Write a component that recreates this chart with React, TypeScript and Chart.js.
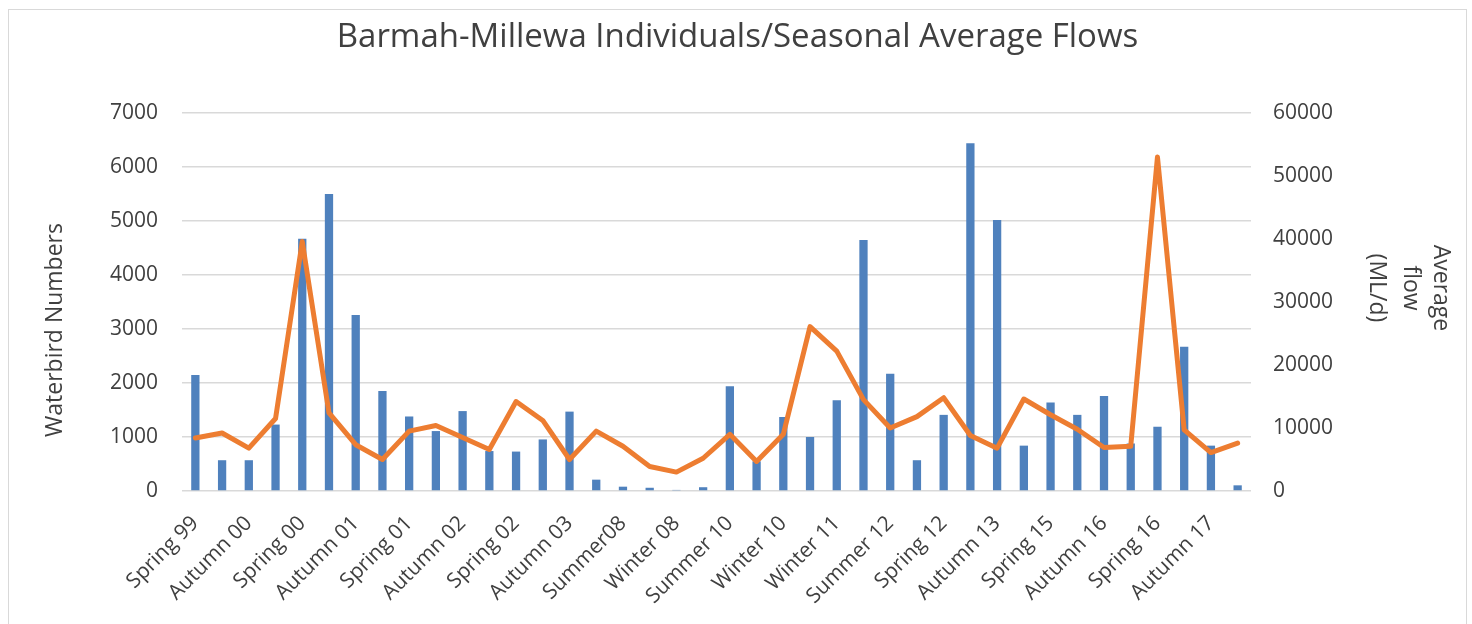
import React, { useEffect, useRef } from 'react';
import { Chart, registerables } from 'chart.js';

Chart.register(...registerables);

const chartTitle = 'Barmah-Millewa Individuals/Seasonal Average Flows';
const leftAxisTitle = 'Waterbird Numbers';
const rightAxisTitle = ['Average', 'flow', '(ML/d)'];

const categories = [
  'Spring 99', 'Summer 00', 'Autumn 00', 'Winter 00', 'Spring 00', 'Summer 01', 'Autumn 01', 'Winter 01',
  'Spring 01', 'Summer 02', 'Autumn 02', 'Winter 02', 'Spring 02', 'Summer 03', 'Autumn 03', 'Winter 03',
  'Summer08', 'Autumn 08', 'Winter 08', 'Spring 08', 'Summer 10', 'Autumn 10', 'Winter 10', 'Spring 10',
  'Winter 11', 'Spring 11', 'Summer 12', 'Autumn 12', 'Spring 12', 'Summer 13', 'Autumn 13', 'Winter 13',
  'Spring 15', 'Summer 16', 'Autumn 16', 'Winter 16', 'Spring 16', 'Summer 17', 'Autumn 17', 'Winter 17',
];

const waterbirdNumbers = [
  2150, 570, 570, 1230, 4670, 5500, 3260, 1850,
  1380, 1110, 1480, 740, 730, 955, 1470, 210,
  80, 60, 20, 70, 1940, 550, 1370, 1000,
  1680, 4650, 2170, 570, 1410, 6440, 5020, 840,
  1640, 1410, 1760, 880, 1190, 2670, 840, 105,
];

const averageFlow = [
  8400, 9200, 6800, 11500, 39600, 12400, 7350, 5000,
  9500, 10400, 8500, 6600, 14200, 11200, 5000, 9500,
  7100, 3900, 3000, 5200, 9000, 4700, 9000, 26100,
  22200, 14500, 10000, 11800, 14800, 8800, 6800, 14600,
  12100, 9800, 6900, 7100, 53000, 9700, 6100, 7600,
];

const TEXT = '#404040';
const GRID = '#d9d9d9';
const FONT = "'Open Sans', sans-serif";

const CANVAS_W = 1457;
const CANVAS_H = 614;

const axisTitlesPlugin = {
  id: 'axisTitles',
  afterDraw(chart: any) {
    const ctx = chart.ctx;
    ctx.save();
    ctx.fillStyle = TEXT;
    ctx.font = `23px ${FONT}`;
    ctx.textAlign = 'center';
    ctx.textBaseline = 'middle';
    ctx.save();
    ctx.translate(46, 320);
    ctx.rotate(-Math.PI / 2);
    ctx.fillText(leftAxisTitle, 0, 0);
    ctx.restore();
    const xs = [1432, 1402, 1368];
    rightAxisTitle.forEach((line, i) => {
      ctx.save();
      ctx.translate(xs[i], 278);
      ctx.rotate(Math.PI / 2);
      ctx.fillText(line, 0, 0);
      ctx.restore();
    });
    ctx.restore();
  },
};

export default function App() {
  const ref = useRef<HTMLCanvasElement>(null);

  useEffect(() => {
    if (!ref.current) return;
    const chart = new Chart(ref.current, {
      type: 'bar',
      data: {
        labels: categories,
        datasets: [
          {
            type: 'line',
            label: 'Average flow',
            data: averageFlow,
            yAxisID: 'y1',
            borderColor: '#ED7D31',
            backgroundColor: '#ED7D31',
            borderWidth: 5,
            pointRadius: 0,
            tension: 0,
            borderJoinStyle: 'round',
            borderCapStyle: 'round',
            order: 0,
          } as any,
          {
            type: 'bar',
            label: 'Waterbird Numbers',
            data: waterbirdNumbers,
            yAxisID: 'y',
            backgroundColor: '#4F81BD',
            categoryPercentage: 1,
            barPercentage: 0.31,
            order: 1,
          },
        ],
      },
      options: {
        responsive: false,
        animation: false,
        layout: { padding: { left: 0, right: 0, top: 0, bottom: 0 } },
        plugins: {
          legend: { display: false },
          tooltip: { enabled: false },
          title: {
            display: true,
            text: chartTitle,
            color: TEXT,
            font: { family: FONT, size: 33, weight: 'normal', lineHeight: 1.2 },
            padding: { top: 8.2, bottom: 55.2 },
          },
        },
        scales: {
          x: {
            offset: true,
            grid: { display: false },
            border: { display: false },
            ticks: {
              autoSkip: false,
              minRotation: 45,
              maxRotation: 45,
              color: TEXT,
              padding: 12,
              font: { family: FONT, size: 21 },
              callback: (_v: any, i: number) => (i % 2 === 0 ? categories[i] : ''),
            },
            afterFit: (s: any) => { s.height = 133; },
          },
          y: {
            position: 'left',
            min: 0,
            max: 7000,
            ticks: {
              stepSize: 1000,
              color: TEXT,
              padding: 24,
              font: { family: FONT, size: 21 },
              callback: (v: any) => String(v),
            },
            grid: { color: GRID, lineWidth: 1.5, drawTicks: false },
            border: { display: false },
            afterFit: (s: any) => { s.width = 173; },
          },
          y1: {
            position: 'right',
            min: 0,
            max: 60000,
            ticks: {
              stepSize: 10000,
              color: TEXT,
              padding: 22,
              font: { family: FONT, size: 21 },
              callback: (v: any) => String(v),
            },
            grid: { drawOnChartArea: false, drawTicks: false },
            border: { display: false },
            afterFit: (s: any) => { s.width = 215; },
          },
        },
      },
      plugins: [axisTitlesPlugin],
    });
    return () => chart.destroy();
  }, []);

  return (
    <div
      style={{
        position: 'absolute',
        left: 8,
        top: 9,
        width: CANVAS_W,
        height: CANVAS_H,
        border: `1px solid ${GRID}`,
        background: '#fff',
      }}
    >
      <canvas ref={ref} width={CANVAS_W} height={CANVAS_H} style={{ display: 'block' }} />
    </div>
  );
}
